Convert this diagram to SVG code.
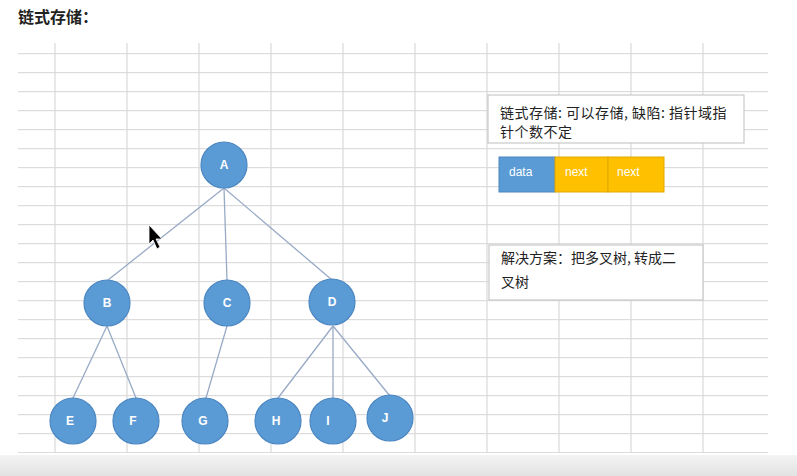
<svg xmlns="http://www.w3.org/2000/svg" width="797" height="476" viewBox="0 0 797 476">
<defs>
<linearGradient id="band" x1="0" y1="0" x2="0" y2="1">
<stop offset="0" stop-color="#F4F4F4"/>
<stop offset="1" stop-color="#E2E2E2"/>
</linearGradient>
<pattern id="hgrid" x="0" y="53" width="797" height="19" patternUnits="userSpaceOnUse">
<rect x="0" y="0" width="797" height="1.2" fill="#DCDCDC"/>
</pattern>
</defs>
<style>
.cjk{font-family:"Noto Sans CJK SC","Liberation Sans",sans-serif;fill:#222;}
.node circle{fill:#5B9BD5;stroke:#4A86C1;stroke-width:1.2;}
.node text{font-family:"Liberation Sans",Arial,sans-serif;font-size:12px;font-weight:bold;fill:#FFFFFF;text-anchor:middle;}
.edge{stroke:#98AAC6;stroke-width:1.3;fill:none;}
.note{fill:#FFFFFF;stroke:#C8C8C8;stroke-width:1.2;}
.cell text{font-family:"Liberation Sans",Arial,sans-serif;font-size:12px;fill:#FFFFFF;}
.vl{stroke:#D8D8D8;stroke-width:1.2;}
</style>
<rect width="797" height="476" fill="#FFFFFF"/>
<g id="grid">
<rect x="18" y="52" width="750" height="401" fill="url(#hgrid)"/>
<line class="vl" x1="55" y1="43" x2="55" y2="453"/>
<line class="vl" x1="127" y1="43" x2="127" y2="453"/>
<line class="vl" x1="199" y1="43" x2="199" y2="453"/>
<line class="vl" x1="271" y1="43" x2="271" y2="453"/>
<line class="vl" x1="343" y1="43" x2="343" y2="453"/>
<line class="vl" x1="415" y1="43" x2="415" y2="453"/>
<line class="vl" x1="487" y1="43" x2="487" y2="453"/>
<line class="vl" x1="559" y1="43" x2="559" y2="453"/>
<line class="vl" x1="631" y1="43" x2="631" y2="453"/>
<line class="vl" x1="703" y1="43" x2="703" y2="453"/>
</g>
<rect x="0" y="455" width="797" height="21" fill="url(#band)"/>
<text class="cjk" x="18" y="23" font-size="16" font-weight="bold">链式存储：</text>
<g id="connectors">
<line class="edge" x1="224" y1="188" x2="108" y2="280"/>
<line class="edge" x1="224" y1="188" x2="227" y2="280"/>
<line class="edge" x1="224" y1="188" x2="332" y2="280"/>
<line class="edge" x1="107" y1="326" x2="73" y2="398"/>
<line class="edge" x1="107" y1="326" x2="136" y2="398"/>
<line class="edge" x1="227" y1="326" x2="206" y2="398"/>
<line class="edge" x1="333" y1="326" x2="278" y2="398"/>
<line class="edge" x1="333" y1="326" x2="333" y2="398"/>
<line class="edge" x1="333" y1="326" x2="390" y2="396"/>
</g>
<g id="node-A" class="node"><circle cx="224" cy="165" r="23"/><text x="224" y="169">A</text></g>
<g id="node-B" class="node"><circle cx="107" cy="303" r="23"/><text x="107" y="307">B</text></g>
<g id="node-C" class="node"><circle cx="227" cy="303" r="23"/><text x="227" y="307">C</text></g>
<g id="node-D" class="node"><circle cx="332" cy="302" r="23"/><text x="332" y="306">D</text></g>
<g id="node-E" class="node"><circle cx="73" cy="421" r="23"/><text x="70" y="425">E</text></g>
<g id="node-F" class="node"><circle cx="136" cy="421" r="23"/><text x="133" y="425">F</text></g>
<g id="node-G" class="node"><circle cx="205" cy="421" r="23"/><text x="203" y="425">G</text></g>
<g id="node-H" class="node"><circle cx="278" cy="421" r="23"/><text x="276" y="425">H</text></g>
<g id="node-I" class="node"><circle cx="333" cy="421" r="23"/><text x="328" y="425">I</text></g>
<g id="node-J" class="node"><circle cx="390" cy="418" r="23"/><text x="385" y="422">J</text></g>
<g id="note-1">
<rect class="note" x="488" y="95" width="256" height="48"/>
<text class="cjk" x="500" y="118" font-size="14" letter-spacing="0.5">链式存储: 可以存储, 缺陷: 指针域指</text>
<text class="cjk" x="500" y="137" font-size="14" letter-spacing="0.5">针个数不定</text>
</g>
<g id="list-cell" class="cell">
<rect x="499" y="157" width="56" height="35" fill="#5B9BD5" stroke="#4A86C1"/>
<rect x="555" y="157" width="53" height="35" fill="#FFC000" stroke="#E0A800"/>
<rect x="608" y="157" width="56" height="35" fill="#FFC000" stroke="#E0A800"/>
<text x="509" y="176">data</text>
<text x="565" y="176">next</text>
<text x="617" y="176">next</text>
</g>
<g id="note-2">
<rect class="note" x="489" y="245" width="214" height="55"/>
<text class="cjk" x="501" y="263" font-size="14">解决方案：把多叉树, 转成二</text>
<text class="cjk" x="501" y="287" font-size="14">叉树</text>
</g>
<polygon points="149,225 149,244 153,240 157,249 160,247 156,239 162,239" fill="#000000" stroke="#FFFFFF" stroke-width="0.8"/>
</svg>
